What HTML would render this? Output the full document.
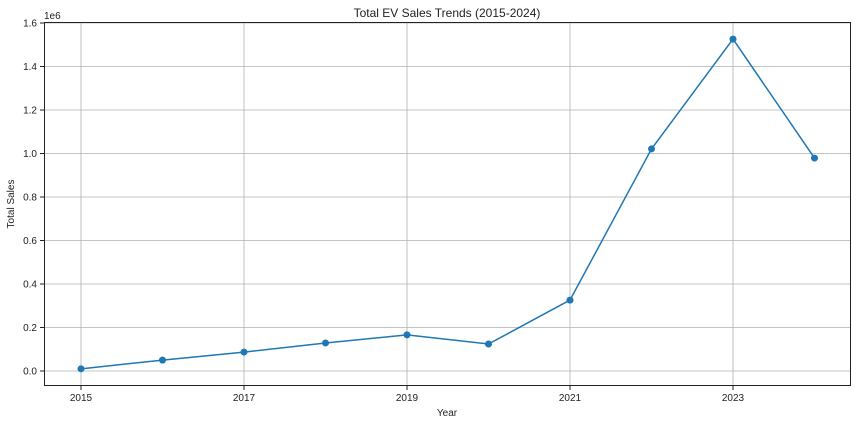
<!DOCTYPE html>
<html><head><meta charset="utf-8"><style>
body{margin:0;background:#fff;}
text{font-family:"Liberation Sans","DejaVu Sans",sans-serif;fill:#222;}
</style></head><body>
<svg id="chart" width="856" height="424" xmlns="http://www.w3.org/2000/svg">
<rect width="856" height="424" fill="#fff"/>
<text x="447" y="17" font-size="12" text-anchor="middle">Total EV Sales Trends (2015-2024)</text>
<g id="grid"></g><g id="ticks"></g><g id="series"></g>
<rect x="44.5" y="22.5" width="806" height="363" fill="none" stroke="#222" stroke-width="1"/>
<text x="447" y="416" font-size="10" text-anchor="middle">Year</text>
<text transform="translate(14,204) rotate(-90)" font-size="10" text-anchor="middle">Total Sales</text>
<text x="44" y="19" font-size="10">1e6</text>
</svg>
<script>
const years=[2015,2016,2017,2018,2019,2020,2021,2022,2023,2024];
const sales=[0.01,0.05,0.087,0.129,0.166,0.124,0.326,1.021,1.526,0.979];
const xTicks=[2015,2017,2019,2021,2023];
const yTicks=[0,0.2,0.4,0.6,0.8,1.0,1.2,1.4,1.6];
const NS="http://www.w3.org/2000/svg";
const X=v=>81+(v-2015)*81.5;
const Y=v=>371-v*217.5;
function mk(p,tag,a){const e=document.createElementNS(NS,tag);for(const k in a)e.setAttribute(k,a[k]);p.appendChild(e);return e;}
const g=document.getElementById('grid'),t=document.getElementById('ticks'),s=document.getElementById('series');
xTicks.forEach(v=>{
 const l=mk(g,'line',{x1:X(v),x2:X(v),y1:22,y2:386,stroke:'#b0b0b0','stroke-width':0.8});
 
 
 mk(t,'line',{x1:X(v),x2:X(v),y1:386,y2:390,stroke:'#222'});
 const tx=mk(t,'text',{x:X(v),y:401,'font-size':10,'text-anchor':'middle'});tx.textContent=v;
 
 
});
yTicks.forEach(v=>{
 const l=mk(g,'line',{x1:44,x2:851,y1:Y(v),y2:Y(v),stroke:'#b0b0b0','stroke-width':0.8});
 
 
 mk(t,'line',{x1:40,x2:44,y1:Y(v),y2:Y(v),stroke:'#222'});
 const tx=mk(t,'text',{x:37,y:Y(v)+3.5,'font-size':10,'text-anchor':'end'});tx.textContent=v.toFixed(1);
 
 
});
const pl=mk(s,'polyline',{points:years.map((y,i)=>X(y)+','+Y(sales[i])).join(' '),fill:'none',stroke:'#1f77b4','stroke-width':1.5});


years.forEach((y,i)=>{
 const c=mk(s,'circle',{cx:X(y),cy:Y(sales[i]),r:3.5,fill:'#1f77b4'});
 
 
});
</script>
</body></html>
